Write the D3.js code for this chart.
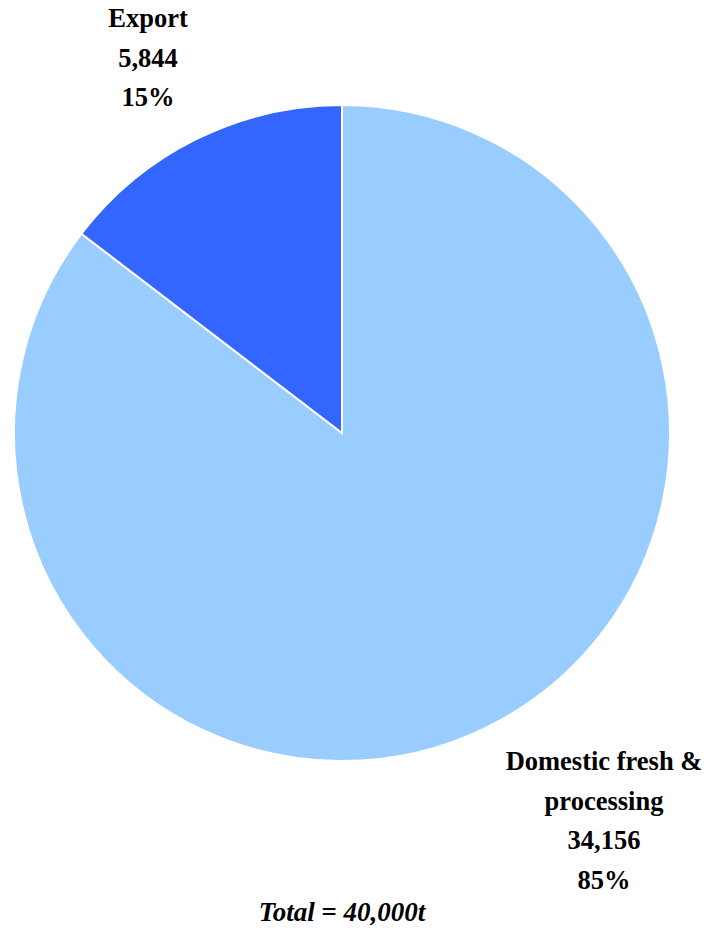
<!DOCTYPE html>
<html><head><meta charset="utf-8">
<script src="https://cdn.jsdelivr.net/npm/d3@7"></script>
<style>body{margin:0;background:#fff}svg{display:block}text{font-family:"Liberation Serif","DejaVu Serif",serif;font-weight:bold;fill:#000}</style>
</head><body>
<svg id="c" width="711" height="929"></svg>
<script>
const categories = ["Domestic fresh & processing", "Export"];
const values = [34156, 5844];
const percents = ["85%", "15%"];
const colors = ["#99CCFF", "#3366FF"];
const totalLabel = "Total = 40,000t";

const svg = d3.select("#c");
const cx = 342, cy = 433, r = 328;
const pie = d3.pie().sort(null).value(d => d)(values);
const arc = d3.arc().innerRadius(0).outerRadius(r);
const g = svg.append("g").attr("transform", `translate(${cx},${cy})`);
g.selectAll("path").data(pie).join("path")
  .attr("d", arc).attr("fill", (d,i) => colors[i])
  .attr("stroke", "#fff").attr("stroke-width", 2);

const fmt = d3.format(",");
const fs = 26.5;
function label(x, y, lines) {
  const t = svg.append("text").attr("text-anchor", "middle").attr("font-size", fs);
  lines.forEach((l, i) => t.append("tspan").attr("x", x).attr("y", y + i * 39.6).text(l));
}
label(148, 27, ["Export", fmt(values[1]), percents[1]]);
label(604, 770, ["Domestic fresh &", "processing", fmt(values[0]), percents[0]]);
const tt = svg.append("text").attr("text-anchor", "middle").attr("font-size", 27).attr("x", 342).attr("y", 921).attr("font-style", "italic");
tt.append("tspan").text("Total");
tt.append("tspan").text(" = ").attr("font-style", "normal");
tt.append("tspan").text("40,000t");
</script>
</body></html>
